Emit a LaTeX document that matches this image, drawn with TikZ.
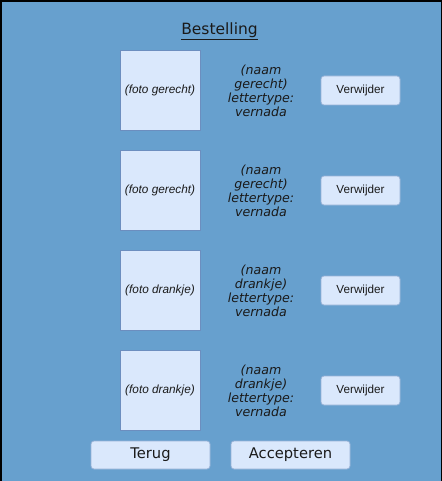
\documentclass[tikz,border=0pt]{standalone}
\usepackage{fontspec}
\setmainfont{DejaVu Sans}
\newfontfamily\arialfont{Liberation Sans}
\newfontfamily\verdana{DejaVu Sans}
\definecolor{bgblue}{RGB}{103,160,206}
\definecolor{boxfill}{HTML}{DAE8FC}
\definecolor{boxline}{HTML}{6C8EBF}
\definecolor{txt}{HTML}{1A1A1A}
\tikzset{
  photo/.style={draw=boxline, fill=boxfill, line width=0.8pt, minimum width=80pt, minimum height=80pt, inner sep=0pt, font=\arialfont\itshape\fontsize{11.8}{13}\selectfont, text=txt},
  delbtn/.style={draw=boxline!60!boxfill, fill=boxfill, rounded corners=3pt, line width=0.8pt, minimum width=79pt, minimum height=29pt, inner sep=0pt, font=\arialfont\fontsize{11.7}{13}\selectfont, text=txt},
  bigbtn/.style={draw=boxline!60!boxfill, fill=boxfill, rounded corners=3pt, line width=0.8pt, minimum width=119pt, minimum height=28pt, inner sep=0pt, font=\verdana\fontsize{14.7}{16}\selectfont, text=txt},
  nameinfo/.style={align=center, font=\verdana\itshape\fontsize{12.6}{14}\selectfont, text=txt, inner sep=0pt},
}
\begin{document}
\begin{tikzpicture}[x=1pt,y=-1pt]
\useasboundingbox (0,0) rectangle (441,481);
\node[draw=black, fill=bgblue, line width=1.2pt, minimum width=440pt, minimum height=480pt, inner sep=0pt, anchor=north west] (frame) at (0.5,0.5) {};
\node[font=\verdana\fontsize{15.5}{18}\selectfont, text=txt, inner sep=0pt] (title) at (219.5,31) {\underline{Bestelling}};
\foreach \i/\foto/\naam in {0/gerecht/gerecht, 1/gerecht/gerecht, 2/drankje/drankje, 3/drankje/drankje}{
  \node[photo] (photo\i) at (160,{90+100*\i}) {(foto \foto)};
  \node[nameinfo] (naam\i) at (261,{91+100*\i}) {(naam\\\naam)\\lettertype:\\vernada};
  \node[delbtn] (del\i) at (360.5,{90.5+100*\i}) {Verwijder};
}
\node[bigbtn] (terug) at (150.5,455) {Terug};
\node[bigbtn] (accept) at (290.5,455) {Accepteren};
\end{tikzpicture}
\end{document}
